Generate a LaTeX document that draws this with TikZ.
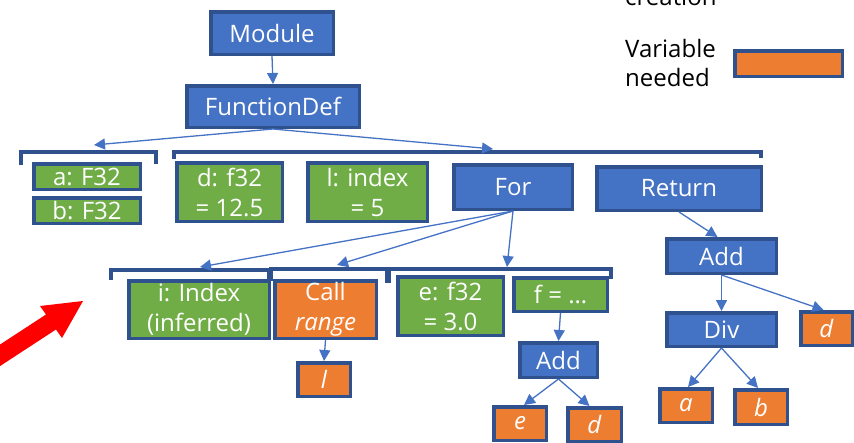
\documentclass[tikz,border=0pt]{standalone}
\usepackage{fontspec}
\setmainfont{Open Sans}
\usetikzlibrary{arrows.meta}
\definecolor{bfill}{HTML}{4472C4}
\definecolor{bline}{HTML}{2F528F}
\definecolor{gfill}{HTML}{70AD47}
\definecolor{ofill}{HTML}{ED7D31}
\tikzset{
 box/.style={draw=bline, line width=3.5pt, inner sep=0pt, text=white, align=center, font=\fontsize{24}{30}\selectfont},
 bluebox/.style={box, fill=bfill},
 greenbox/.style={box, fill=gfill},
 orangebox/.style={box, fill=ofill},
 conn/.style={draw=bfill, line width=1.3pt, -{Triangle[length=11pt,width=11pt]}},
 bracketline/.style={draw=bline, line width=3.5pt},
 legendtext/.style={font=\fontsize{24}{29}\selectfont, text=black, align=left, inner sep=0pt},
}
\newcommand\mybox[7]{\node[#1, minimum width={#5-#3-3.5}, minimum height={#6-#4-3.5}] (#2) at ({(#3+#5)/2},{(#4+#6)/2}) {#7};}
\begin{document}
\begin{tikzpicture}[x=1pt,y=-1pt]
\useasboundingbox (0,0) rectangle (854,442);
\clip (0,0) rectangle (854,442);
% legend
\node[legendtext, anchor=base west] (legc) at (625,5) {creation};
\node[legendtext, anchor=base west] (legv) at (625,86) {Variable\\needed};
\mybox{orangebox}{legbox}{733}{49}{844}{78}{}
% brackets
\draw[bracketline] (21,165) -- (21,152) -- (156,152) -- (156,164);
\draw[bracketline] (174,159) -- (174,152) -- (761,152) -- (761,158);
\draw[bracketline] (111,280) -- (111,270) -- (269,270) -- (269,279);
\draw[bracketline] (271,281) -- (271,269) -- (387,269) -- (387,283);
\draw[bracketline] (389,283) -- (389,269) -- (611,269) -- (611,279);
\coordinate (t1) at (94,145);
\coordinate (t2) at (493,149);
\coordinate (t3) at (200,267);
\coordinate (t4) at (337,265);
\coordinate (t5) at (507,267);
% boxes
\mybox{bluebox}{mod}{209}{10}{335}{56}{Module}
\mybox{bluebox}{fdef}{185}{84}{361}{129}{FunctionDef}
\mybox{greenbox}{a}{32}{162}{142}{191}{a: F32}
\mybox{greenbox}{b}{32}{196}{142}{225}{b: F32}
\mybox{greenbox}{d}{175}{161}{284}{223}{d: f32\\= 12.5}
\mybox{greenbox}{lidx}{306}{161}{429}{223}{l: index\\= 5}
\mybox{bluebox}{for}{452}{163}{574}{211}{For}
\mybox{bluebox}{ret}{595}{165}{763}{212}{Return}
\mybox{greenbox}{iidx}{127}{279}{271}{340}{i: Index\\(inferred)}
\mybox{orangebox}{call}{273}{279}{378}{340}{Call\\\textit{range}}
\mybox{orangebox}{lvar}{296}{361}{352}{398}{\textit{l}}
\mybox{greenbox}{e32}{396}{275}{505}{337}{e: f32\\= 3.0}
\mybox{greenbox}{fdots}{512}{276}{609}{313}{f = …}
\mybox{bluebox}{addL}{518}{341}{599}{379}{Add}
\mybox{orangebox}{evar}{492}{405}{548}{442}{\textit{e}}
\mybox{orangebox}{dvar}{566}{406}{623}{443}{\textit{d}}
\mybox{bluebox}{addR}{665}{237}{778}{275}{Add}
\mybox{bluebox}{div}{665}{311}{778}{348}{Div}
\mybox{orangebox}{dR}{799}{310}{854}{347}{\textit{d}}
\mybox{orangebox}{avar}{658}{387}{714}{424}{\textit{a}}
\mybox{orangebox}{bvar}{733}{388}{789}{426}{\textit{b}}
% connectors
\draw[conn] (mod.south) -- (fdef.north);
\draw[conn] (fdef.south) -- (t1);
\draw[conn] (fdef.south) -- (t2);
\draw[conn] (for.south) -- (t3);
\draw[conn] (for.south) -- (t4);
\draw[conn] (for.south) -- (t5);
\draw[conn] (call.south) -- (lvar.north);
\draw[conn] (fdots.south) -- (addL.north);
\draw[conn] (addL.south) -- ([xshift=4pt]evar.north);
\draw[conn] (addL.south) -- ([xshift=-5pt]dvar.north);
\draw[conn] (ret.south) -- ([xshift=-4pt]addR.north);
\draw[conn] (addR.south) -- (div.north);
\draw[conn] (addR.south) -- ([xshift=-3pt]dR.north);
\draw[conn] (div.south) -- ([xshift=2pt]avar.north);
\draw[conn] (div.south) -- ([xshift=-3pt]bvar.north);
% red arrow
\fill[red] (83,301) -- (40,306) -- (46,314.5) -- (-29,363.5) -- (-19,378.5) -- (56,329.5) -- (62,338) -- cycle;
\end{tikzpicture}
\end{document}
